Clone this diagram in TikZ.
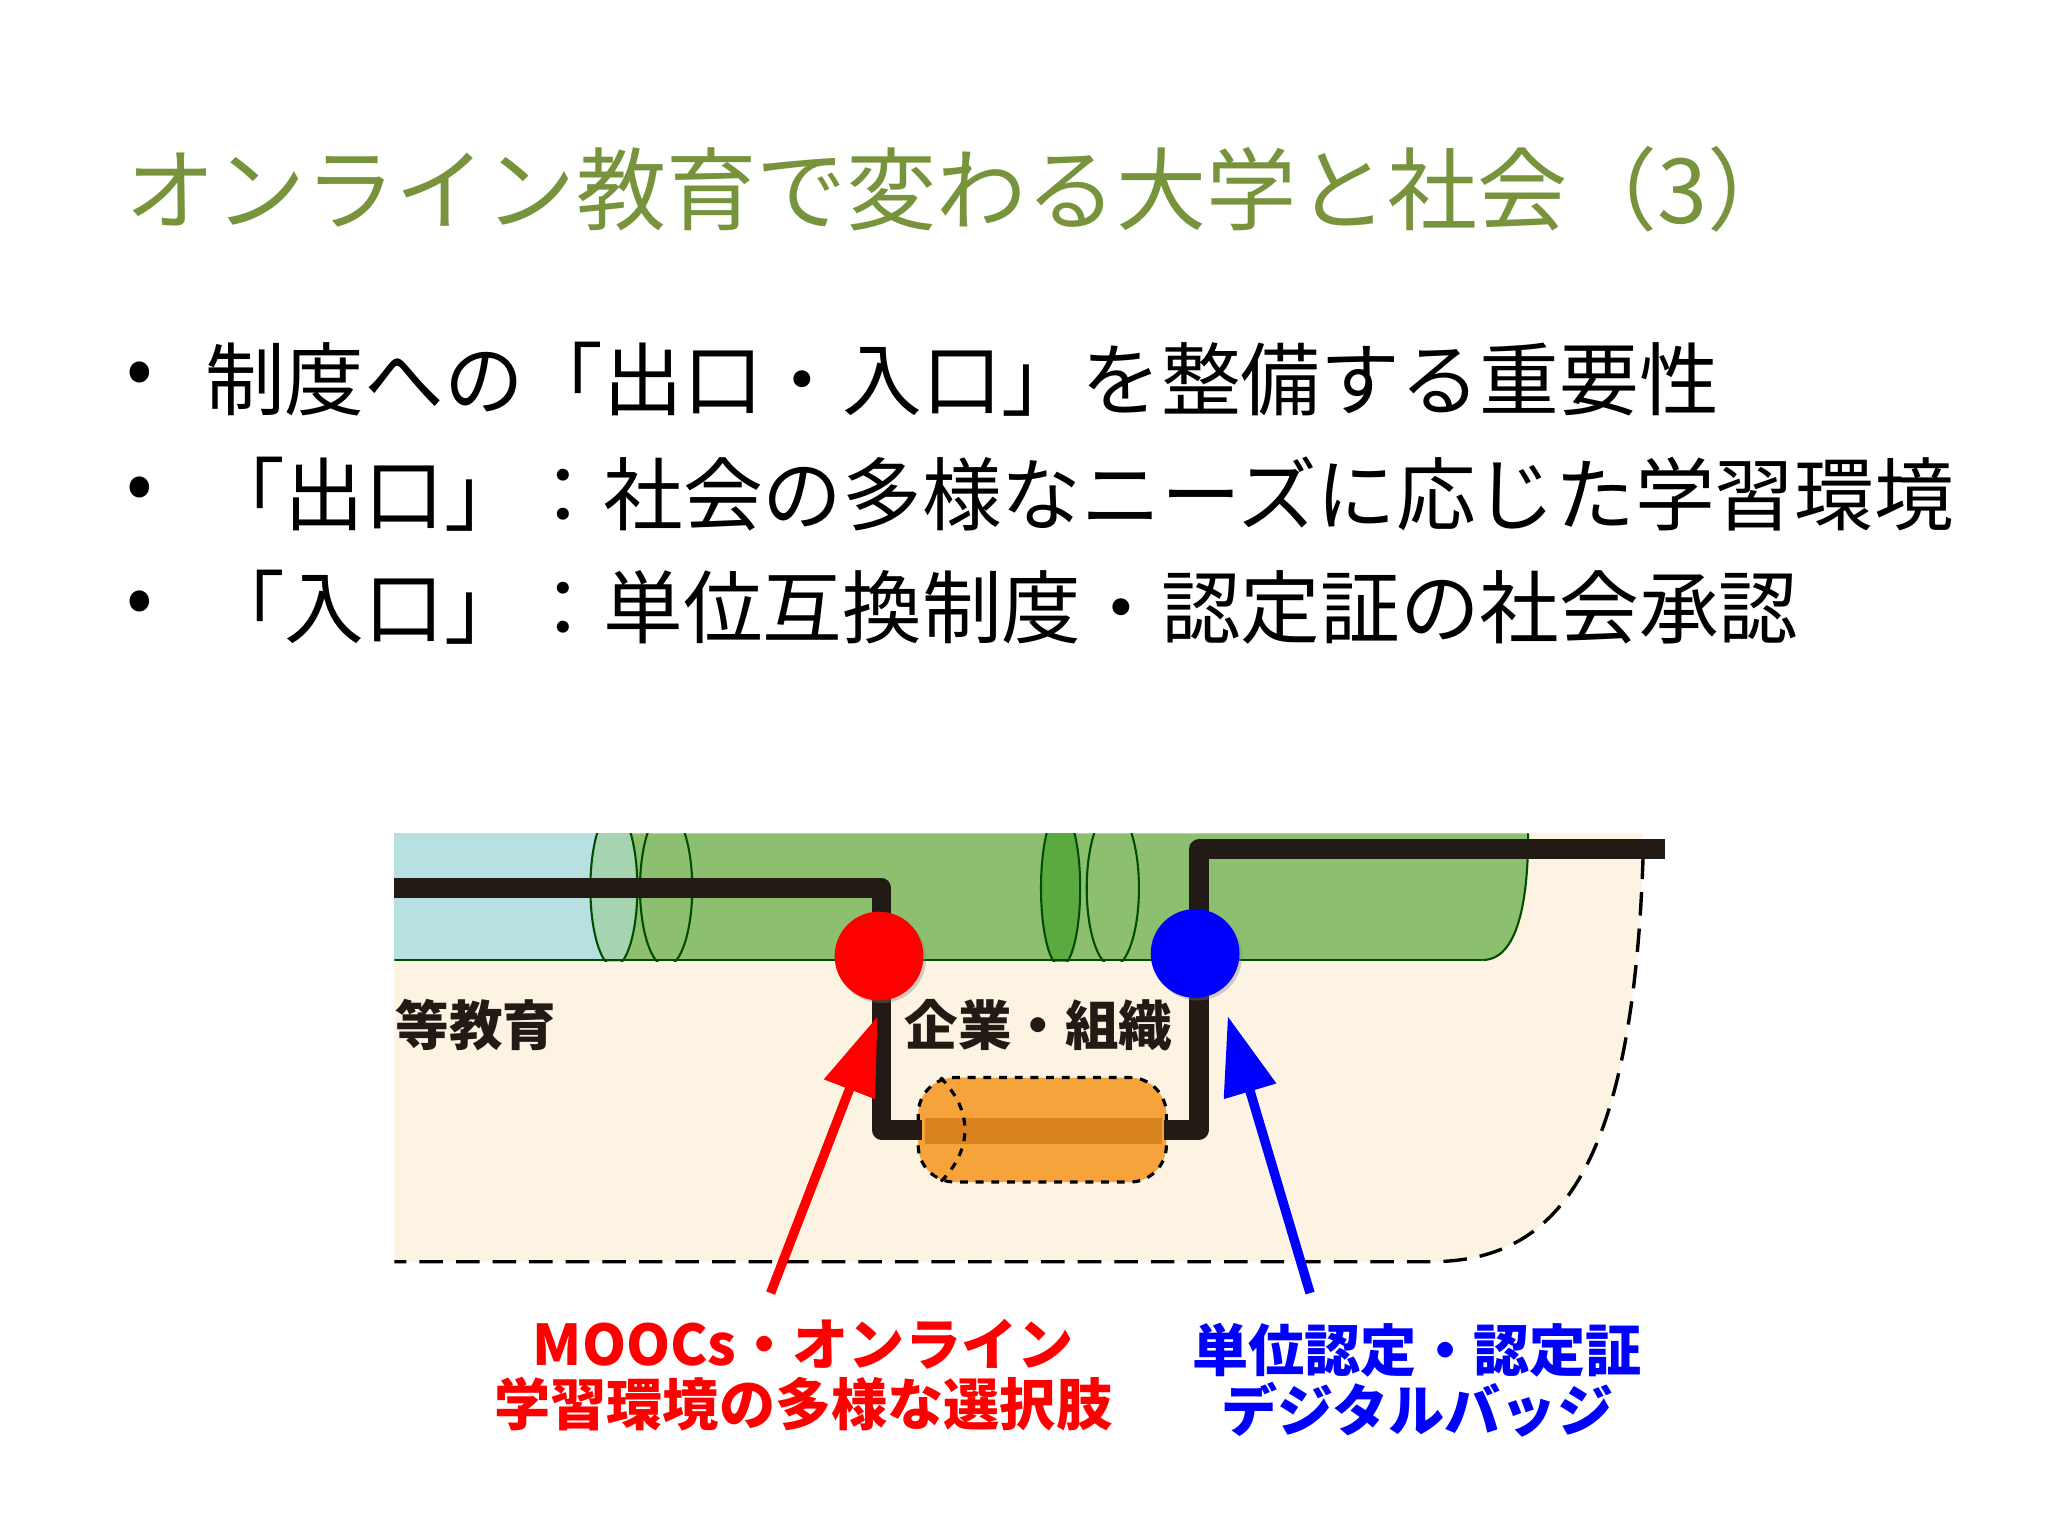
\documentclass[tikz,border=0pt]{standalone}
\usepackage{fontspec}
\setmainfont{Noto Sans CJK JP}
\usetikzlibrary{arrows.meta,shadows}
\definecolor{ttl}{HTML}{77933C}
\definecolor{cream}{HTML}{FDF3E3}
\definecolor{grn}{HTML}{8CC06E}
\definecolor{dgrn}{HTML}{5BAA40}
\definecolor{lblue}{HTML}{B7E0E0}
\definecolor{org}{HTML}{F5A33A}
\definecolor{dorg}{HTML}{D98220}
\definecolor{blk}{HTML}{221A14}
\tikzset{
  bul/.style={anchor=west,font=\fontsize{30.5}{36}\selectfont},
  lab/.style={font=\bfseries\fontsize{20.5}{24}\selectfont,text=blk},
  thick line/.style={line width=7.5pt,blk,line join=round},
  dot/.style={circle,minimum size=34pt,inner sep=0pt,drop shadow={opacity=0.35,shadow xshift=1pt,shadow yshift=-1pt}},
  arr/.style={line width=3.6pt,-{Triangle[width=20pt,length=30pt]}},
  captext/.style={font=\bfseries\fontsize{21.5}{25}\selectfont,align=center},
  ell/.style={draw=black!70!green,line width=0.8pt}
}
\begin{document}
\begin{tikzpicture}[x=0.5pt,y=-0.5pt]
\useasboundingbox[fill=white] (0,0) rectangle (1568,1176);
\node[anchor=west,text=ttl,font=\fontsize{34.5}{40}\selectfont] (title) at (89,145) {オンライン教育で変わる大学と社会（3）};
\foreach \y in {290,378,465} \node[font=\fontsize{30}{30}\selectfont] (b\y) at (107,\y) {•};
\node[bul] (l1) at (150,290) {制度への「出口・入口」を整備する重要性};
\node[bul] (l2) at (150,378) {「出口」：社会の多様なニーズに応じた学習環境};
\node[bul] (l3) at (150,465) {「入口」：単位互換制度・認定証の社会承認};
% cream
\fill[cream] (302,638) -- (1258,638) -- (1258,655) .. controls (1250,900) and (1190,966) .. (1095,966) -- (302,966) -- cycle;
\draw[dashed,line width=1.3pt,dash pattern=on 9pt off 5pt] (1258,655) .. controls (1250,900) and (1190,966) .. (1095,966) -- (302,966);
% cylinders
\fill[lblue] (302,638) -- (485,638) -- (485,735) -- (302,735) -- cycle;
\fill[grn] (470,638) -- (1170,638) .. controls (1170,690) and (1162,735) .. (1135,735) -- (470,735) .. controls (490,700) and (490,660) .. (482,638) -- cycle;
\begin{scope}
\clip (302,638) rectangle (1260,736);
\fill[lblue!60!grn] (470,680) ellipse (18 and 60);
\draw[ell] (470,680) ellipse (18 and 60);
\draw[ell] (510,680) ellipse (20 and 60);
\fill[dgrn] (812,680) ellipse (15 and 60);
\draw[ell] (812,680) ellipse (15 and 60);
\draw[ell] (852,680) ellipse (20 and 60);
\draw[ell] (302,735) -- (1135,735);
\draw[ell] (1170,638) .. controls (1170,690) and (1162,735) .. (1135,735);
\end{scope}
% orange
\fill[org,rounded corners=14pt] (703,825) rectangle (893,905);
\fill[dorg] (708,856) rectangle (890,876);
\draw[dashed,line width=1.2pt,rounded corners=14pt] (703,825) rectangle (893,905);
\draw[dashed,line width=1.2pt] (720,825) .. controls (745,850) and (745,880) .. (720,905);
% line
\coordinate (s) at (302,680);
\coordinate (e) at (1275,650);
\draw[thick line] (s) -- (675,680) -- (675,865) -- (706,865);
\draw[thick line] (891,865) -- (918,865) -- (918,650) -- (e);
\node[dot,fill=red] (rd) at (673,732) {};
\node[dot,fill=blue] (bd) at (915,730) {};
\node[lab,anchor=west] (edu) at (296,785) {等教育};
\node[lab] (corp) at (795,785) {企業・組織};
% captions
\node[captext,text=red] (rc) at (615,1053) {MOOCs・オンライン\\[-2pt]学習環境の多様な選択肢};
\node[captext,text=blue] (bc) at (1085,1057) {単位認定・認定証\\[-2pt]デジタルバッジ};
\draw[arr,red] (590,990) -- (672,778);
\draw[arr,blue] (1003,990) -- (940,778);
\end{tikzpicture}
\end{document}
